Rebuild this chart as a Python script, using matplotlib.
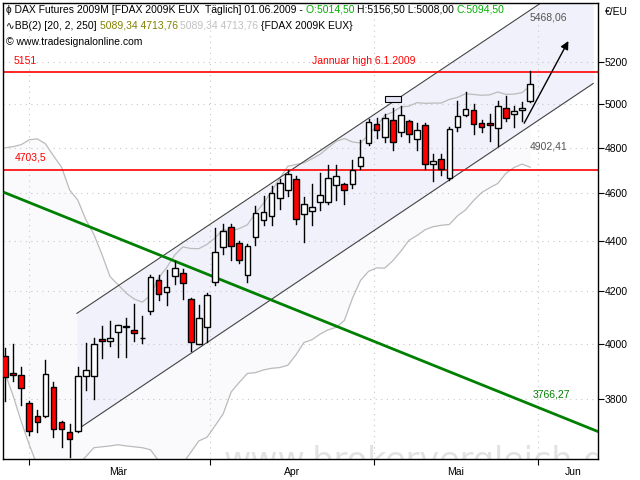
import numpy as np
import matplotlib
matplotlib.use("Agg")
import matplotlib.pyplot as plt
from matplotlib.patches import Rectangle

opens = [3953,3891,3883,3786,3738,3740,3841,3717,3685,3686,3880,3880,4018,4011,4042,4063,4051,4022,4124,4243,
         4197,4259,4271,4171,3999,4062,4237,4377,4459,4393,4262,4417,4486,4506,4579,4617,4664,4513,4524,4565,
         4565,4636,4641,4640,4720,4822,4906,4848,4924,4870,4921,4839,4904,4727,4750,4668,4892,4951,4970,4912,
         4912,4888,4982,4955,4970,5014.5]
highs = [3983,3999,3914,3790,3759,3938,3858,3720,3712,3912,4003,4021,4067,4086,4070,4098,4149,4102,4265,4263,
         4284,4320,4288,4175,4145,4193,4455,4469,4473,4400,4390,4545,4589,4630,4662,4703,4675,4586,4640,4688,
         4723,4723,4645,4747,4836,4930,4933,4952,4982,4992,4925,4912,4912,4773,4773,4892,5012,5057,5000,4925,
         4952,5012,5036,4989,5008,5156.5]
lows = [3793,3864,3778,3674,3682,3735,3665,3634,3600,3684,3832,3800,3945,3991,3951,3951,4011,4003,4111,4167,
        4146,4228,4168,3973,3997,4005,4225,4346,4325,4311,4235,4384,4465,4465,4536,4590,4469,4398,4465,4528,
        4555,4572,4555,4622,4708,4813,4845,4825,4792,4852,4825,4792,4705,4652,4680,4657,4877,4942,4861,4870,
        4830,4808,4922,4892,4919,5008]
closes = [3876,3883,3837,3687,3717,3887,3695,3695,3659,3880,3904,3999,4011,4022,4069,4066,4039,4020,4255,4187,
          4215,4290,4231,4007,4097,4185,4355,4444,4381,4325,4381,4517,4523,4603,4644,4682,4490,4555,4543,4593,
          4668,4675,4614,4700,4758,4918,4879,4933,4828,4950,4861,4880,4727,4740,4705,4886,4944,4978,4906,4892,
          4902,4992,4937,4967,4982,5094.5]
# Bollinger band values read for the first 19 bars (earlier history not shown)
bb_upper_start = [4800,4805,4814,4836,4840,4818,4764,4714,4615,4572,4490,4428,4346,4257,4225,4192,4169,4157,4184]
bb_lower_start = [3891,3810,3720,3640,3570,3550,3530,3530,3545,3570,3600,3630,3633,3636,3640,3636,3633,3630,3623]

month_ticks = [3, 25.4, 45.7, 66]
month_labels = ["Mär", "Apr", "Mai", "Jun"]
month_label_pos = [14, 35.5, 55.8, 70.3]
yticks = [3800, 4000, 4200, 4400, 4600, 4800, 5000, 5200]

hlines = [5151, 4703.5]
hline_labels = ["5151", "4703,5"]
trend = ([0, 73.4], [4603, 3685])
chan_lower = ([8.9, 72.8], [3691, 5096])
chan_upper = ([8.9, 72.8], [4114, 5675])
arrow_pts = ([64.1, 69.9], [4900, 5314])

FAM = ["Liberation Sans", "DejaVu Sans"]
n = len(closes)
x = np.arange(n)
c = np.array(closes, float)
up = list(bb_upper_start); lo = list(bb_lower_start)
for i in range(19, n):
    w = c[i-19:i+1]
    m, s = w.mean(), w.std()
    up.append(m + 2*s); lo.append(m - 2*s)

fig = plt.figure(figsize=(6.4, 4.8), dpi=100)
ax = fig.add_axes([3/640, 21/480, 595/640, 456/480])
ax.set_yscale("log")
ax.set_xlim(-0.25, 73.4)
ax.set_ylim(3592, 5493)

ax.fill_between(x, lo, up, color="#fafafd", zorder=0, lw=0)
cx = np.array(chan_lower[0])
ax.fill_between(cx, chan_lower[1], chan_upper[1], color="#f0f1fa", zorder=0.5, lw=0)
ax.plot(x, up, color="#bbbbbb", lw=0.9, zorder=1)
ax.plot(x, lo, color="#bbbbbb", lw=0.9, zorder=1)
ax.plot(*chan_lower, color="#444444", lw=0.8, zorder=1.5)
ax.plot(*chan_upper, color="#444444", lw=0.8, zorder=1.5)

for t in yticks:
    ax.axhline(t, color="#c8c8c8", lw=0.8, ls=(0, (1, 4)), zorder=0.6)
for t in month_ticks:
    ax.axvline(t, color="#c8c8c8", lw=0.8, ls=(0, (1, 4)), zorder=0.6)

wm = ax.text(0.37, 0.03, "www.brokervergleich.de", transform=ax.transAxes, fontsize=24,
             color="#e2e2e2", va="top", ha="left", zorder=0.7, clip_on=True)
wm.set_clip_box(ax.bbox)

for v in hlines:
    ax.axhline(v, color="#ff0000", lw=1.2, zorder=2)
ax.text(1.0, 5151*1.006, hline_labels[0], color="#ff0000", fontsize=7.5, va="bottom", family=FAM)
ax.text(1.2, 4703.5*1.007, hline_labels[1], color="#ff0000", fontsize=7.5, va="bottom", family=FAM)
ax.text(38, 5151*1.006, "Jannuar high 6.1.2009", color="#ff0000", fontsize=7.5, va="bottom", family=FAM)

ax.plot(*trend, color="#008000", lw=2.0, zorder=3)
ax.text(65.3, 3766*1.008, "3766,27", color="#008000", fontsize=7.5, va="bottom", family=FAM)
ax.text(65.0, 4902*0.985, "4902,41", color="#555555", fontsize=7.5, va="top", family=FAM)
ax.text(64.9, 5420, "5468,06", color="#555555", fontsize=7.5, va="center", family=FAM)

ax.add_patch(Rectangle((47, 5008), 2.0, 27, facecolor="#e4e4f4", edgecolor="black", lw=0.8, zorder=3))

bw = 0.7
for i in range(n):
    o, h, l, cl = opens[i], highs[i], lows[i], closes[i]
    ax.plot([i, i], [l, h], color="black", lw=1.0, zorder=4)
    bot, top = min(o, cl), max(o, cl)
    col = "#ff0000" if cl < o else "white"
    ax.add_patch(Rectangle((i - bw/2, bot), bw, max(top - bot, 2), facecolor=col,
                           edgecolor="black", lw=1.0, zorder=5))

ax.annotate("", xy=(arrow_pts[0][1], arrow_pts[1][1]), xytext=(arrow_pts[0][0], arrow_pts[1][0]),
            arrowprops=dict(arrowstyle="-|>", color="black", lw=1.0, mutation_scale=12), zorder=6)

ax.yaxis.tick_right()
ax.set_yticks(yticks)
ax.set_yticklabels([str(t) for t in yticks], fontsize=7.5, family=FAM)
ax.yaxis.set_minor_locator(matplotlib.ticker.NullLocator())
ax.tick_params(axis="y", which="both", length=4, pad=1, direction="out")
ax.set_xticks(month_ticks)
ax.set_xticklabels([])
ax.set_xticks(month_label_pos, minor=True)
ax.set_xticklabels(month_labels, minor=True, fontsize=7.5, family=FAM)
ax.tick_params(axis="x", which="major", length=4, direction="out")
ax.tick_params(axis="x", which="minor", length=0, pad=6)
for sp in ax.spines.values():
    sp.set_linewidth(1.0)
fig.text(605/640, 1 - 12/480, "€/EU", fontsize=7.5, va="center", family=FAM)

fig.canvas.draw()
r = fig.canvas.get_renderer()
def line(pieces, y):
    xpx = 6
    for s, col in pieces:
        t = fig.text(xpx/640, 1 - y/480, s, color=col, fontsize=7.5, va="center",
                     family=FAM, zorder=10)
        xpx += t.get_window_extent(r).width
line([("ɸ DAX Futures 2009M [FDAX 2009K EUX  Täglich] 01.06.2009 - ", "black"),
      ("O:5014,50 ", "#00b000"), ("H:5156,50 L:5008,00 ", "black"), ("C:5094,50", "#00b000")], 10)
line([("∿BB(2) [20, 2, 250] ", "black"), ("5089,34 4713,76 ", "#808000"),
      ("5089,34 4713,76 ", "#c0c0c0"), ("{FDAX 2009K EUX}", "black")], 26)
line([("© www.tradesignalonline.com", "black")], 42)

fig.savefig("out.png", dpi=100)
